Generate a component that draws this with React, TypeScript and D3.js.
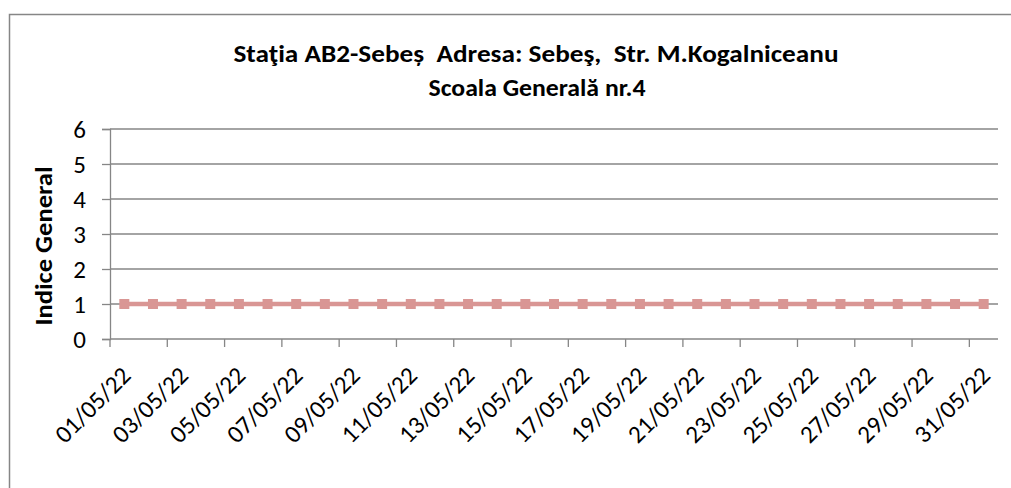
import { useEffect, useRef } from 'react';
import * as d3 from 'd3';

const days = [
  '01/05/22', '02/05/22', '03/05/22', '04/05/22', '05/05/22', '06/05/22', '07/05/22', '08/05/22',
  '09/05/22', '10/05/22', '11/05/22', '12/05/22', '13/05/22', '14/05/22', '15/05/22', '16/05/22',
  '17/05/22', '18/05/22', '19/05/22', '20/05/22', '21/05/22', '22/05/22', '23/05/22', '24/05/22',
  '25/05/22', '26/05/22', '27/05/22', '28/05/22', '29/05/22', '30/05/22', '31/05/22',
];
const indiceGeneral = [
  1, 1, 1, 1, 1, 1, 1, 1, 1, 1, 1, 1, 1, 1, 1, 1,
  1, 1, 1, 1, 1, 1, 1, 1, 1, 1, 1, 1, 1, 1, 1,
];
const yTicks = [0, 1, 2, 3, 4, 5, 6];
const titleLines = ['Staţia AB2-Sebeș  Adresa: Sebeş,  Str. M.Kogalniceanu', 'Scoala Generală nr.4'];
const yTitle = 'Indice General';

const FONT = "Carlito, Calibri, 'Open Sans', sans-serif";
const GRID = '#868686';
const LINE = '#d99694';

export default function App() {
  const ref = useRef<SVGSVGElement | null>(null);

  useEffect(() => {
    const svg = d3.select(ref.current);
    svg.selectAll('*').remove();

    const width = 1011;
    const height = 488;
    const margin = { top: 129, right: 13, bottom: 149, left: 110 };

    const x = d3.scaleBand<string>().domain(days).range([margin.left, width - margin.right]).padding(0);
    const y = d3.scaleLinear().domain([0, 6]).range([height - margin.bottom, margin.top]);

    svg.append('rect')
      .attr('x', 9.5).attr('y', 14.5)
      .attr('width', width + 10).attr('height', height + 10)
      .attr('fill', '#fff').attr('stroke', GRID).attr('stroke-width', 1.5);

    // gridlines
    svg.append('g')
      .selectAll('line')
      .data(yTicks.filter(d => d > 0))
      .join('line')
      .attr('x1', margin.left).attr('x2', width - margin.right)
      .attr('y1', d => y(d)).attr('y2', d => y(d))
      .attr('stroke', GRID).attr('stroke-width', 1.3);

    // y axis
    const yAxis = svg.append('g')
      .attr('transform', `translate(${margin.left},0)`)
      .call(d3.axisLeft(y).tickValues(yTicks).tickSize(8).tickPadding(16).tickFormat(d3.format('d')));
    yAxis.select('.domain').attr('stroke', GRID).attr('stroke-width', 1.3);
    yAxis.selectAll('.tick line').attr('stroke', GRID).attr('stroke-width', 1.3);
    yAxis.selectAll('.tick text')
      .attr('font-family', FONT).attr('font-size', 25).attr('fill', '#000');

    // x axis
    const base = y(0);
    const xg = svg.append('g');
    xg.append('line')
      .attr('x1', margin.left).attr('x2', width - margin.right)
      .attr('y1', base).attr('y2', base)
      .attr('stroke', GRID).attr('stroke-width', 1.3);
    const tickIdx = days.map((_, i) => i).filter(i => i % 2 === 0);
    xg.selectAll('line.tk')
      .data(tickIdx)
      .join('line')
      .attr('class', 'tk')
      .attr('x1', i => x(days[i])!).attr('x2', i => x(days[i])!)
      .attr('y1', base).attr('y2', base + 8)
      .attr('stroke', GRID).attr('stroke-width', 1.3);
    xg.selectAll('text')
      .data(tickIdx)
      .join('text')
      .attr('transform', i => `translate(${x(days[i])! + x.bandwidth() / 2 + 8},${base + 38}) rotate(-45)`)
      .attr('text-anchor', 'end')
      .attr('font-family', FONT).attr('font-size', 25).attr('fill', '#000')
      .text(i => days[i]);

    // series
    const line = d3.line<number>()
      .x((_, i) => x(days[i])! + x.bandwidth() / 2)
      .y(d => y(d));
    svg.append('path')
      .datum(indiceGeneral)
      .attr('fill', 'none').attr('stroke', LINE).attr('stroke-width', 4.5)
      .attr('d', line);
    svg.append('g')
      .selectAll('rect')
      .data(indiceGeneral)
      .join('rect')
      .attr('x', (_, i) => x(days[i])! + x.bandwidth() / 2 - 5)
      .attr('y', d => y(d) - 5)
      .attr('width', 10).attr('height', 10)
      .attr('fill', LINE);

    // titles
    svg.append('text')
      .attr('x', 536).attr('y', 62)
      .attr('text-anchor', 'middle')
      .style('white-space', 'pre')
      .attr('font-family', FONT).attr('font-size', 25).attr('font-weight', 'bold')
      .attr('textLength', 605).attr('lengthAdjust', 'spacingAndGlyphs')
      .text(titleLines[0]);
    svg.append('text')
      .attr('x', 537).attr('y', 96)
      .attr('text-anchor', 'middle')
      .attr('font-family', FONT).attr('font-size', 25).attr('font-weight', 'bold')
      .attr('textLength', 217).attr('lengthAdjust', 'spacingAndGlyphs')
      .text(titleLines[1]);

    svg.append('text')
      .attr('transform', `translate(52,246) rotate(-90)`)
      .attr('text-anchor', 'middle')
      .attr('font-family', FONT).attr('font-size', 25).attr('font-weight', 'bold')
      .attr('textLength', 159).attr('lengthAdjust', 'spacingAndGlyphs')
      .text(yTitle);
  }, []);

  return (
    <div style={{ position: 'absolute', left: 0, top: 0, width: 1011, height: 488, overflow: 'hidden', background: '#fff' }}>
      <svg ref={ref} width={1011} height={488} />
    </div>
  );
}
